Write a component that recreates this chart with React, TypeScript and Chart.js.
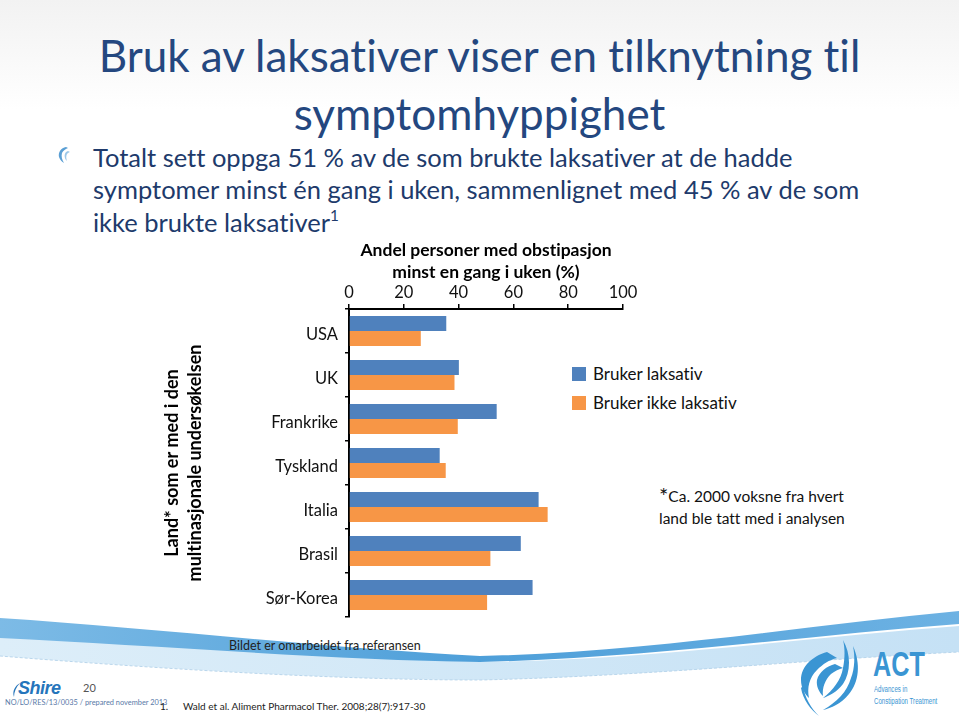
import React, { useEffect, useRef } from "react";
import { Chart, registerables } from "chart.js";

Chart.register(...registerables);

const countries = ["USA", "UK", "Frankrike", "Tyskland", "Italia", "Brasil", "Sør-Korea"];
const usesLaxative = [35.5, 40.1, 53.9, 33.1, 69.2, 62.7, 67.0];
const noLaxative = [26.2, 38.5, 39.7, 35.3, 72.5, 51.6, 50.4];
const seriesNames = ["Bruker laksativ", "Bruker ikke laksativ"];
const seriesColors = ["#4F81BD", "#F79646"];
const xMin = 0;
const xMax = 100;
const xStep = 20;
const xTitle = ["Andel personer med obstipasjon", "minst en gang i uken (%)"];
const yTitle = ["Land* som er med i den", "multinasjonale undersøkelsen"];

const FONT = "Lato, 'Open Sans', sans-serif";

function BarChart() {
  const ref = useRef<HTMLCanvasElement | null>(null);
  useEffect(() => {
    if (!ref.current) return;
    const chart = new Chart(ref.current, {
      type: "bar",
      data: {
        labels: countries,
        datasets: [
          {
            label: seriesNames[0],
            data: usesLaxative,
            backgroundColor: seriesColors[0],
            categoryPercentage: 0.68,
            barPercentage: 1.0,
          },
          {
            label: seriesNames[1],
            data: noLaxative,
            backgroundColor: seriesColors[1],
            categoryPercentage: 0.68,
            barPercentage: 1.0,
          },
        ],
      },
      options: {
        indexAxis: "y",
        animation: false,
        responsive: false,
        maintainAspectRatio: false,
        layout: { padding: { left: 0, top: 0, right: 27, bottom: 20 } },
        plugins: { legend: { display: false }, tooltip: { enabled: false } },
        scales: {
          x: {
            position: "top",
            min: xMin,
            max: xMax,
            ticks: {
              stepSize: xStep,
              color: "#111",
              padding: 1.5,
              font: { family: FONT, size: 16.5 },
            },
            grid: {
              drawOnChartArea: false,
              drawTicks: true,
              tickLength: 5,
              color: "#000",
              lineWidth: 1.5,
            },
            border: { display: true, color: "#000", width: 2 },
            title: {
              display: true,
              text: xTitle,
              color: "#000",
              padding: { top: 4, bottom: 0 },
              font: { family: FONT, size: 17.5, weight: "bold", lineHeight: 1.257 },
            },
            afterFit: (s: any) => {
              s.height = 74;
            },
          },
          y: {
            type: "category",
            ticks: {
              color: "#111",
              padding: 7,
              labelOffset: 4,
              font: { family: FONT, size: 16.5 },
            },
            grid: {
              drawOnChartArea: false,
              drawTicks: true,
              tickLength: 4,
              offset: true,
              color: "#000",
              lineWidth: 1.5,
            },
            border: { display: true, color: "#000", width: 2 },
            title: {
              display: true,
              text: yTitle,
              color: "#000",
              padding: { top: 10.5, bottom: 0 },
              font: { family: FONT, size: 18, weight: "bold", lineHeight: 1.28 },
            },
            afterFit: (s: any) => {
              s.width = 199;
            },
          },
        },
      },
    } as any);
    return () => chart.destroy();
  }, []);
  return (
    <canvas
      ref={ref}
      width={500}
      height={402}
      style={{ position: "absolute", left: 150, top: 235, width: 500, height: 402, zIndex: 2 }}
    />
  );
}

function Waves() {
  return (
    <svg
      width={959}
      height={120}
      viewBox="0 600 959 120"
      style={{ position: "absolute", left: 0, top: 600, zIndex: 1 }}
    >
      <defs>
        <linearGradient id="wg1" x1="0" y1="0" x2="1" y2="0">
          <stop offset="0" stopColor="#7DBBE6" />
          <stop offset="0.5" stopColor="#4E9FD9" />
          <stop offset="1" stopColor="#6DB2E3" />
        </linearGradient>
        <linearGradient id="wg2" x1="0" y1="0" x2="1" y2="0">
          <stop offset="0" stopColor="#DDEEF9" />
          <stop offset="1" stopColor="#C5E1F5" />
        </linearGradient>
      </defs>
      <path
        d="M0,636 C150,645 330,658 480,662 C650,660 800,638 959,626 L959,652 C800,660 650,676 480,680 C330,680 150,668 0,656 Z"
        fill="url(#wg2)"
      />
      <path
        d="M0,656 C150,668 330,680 480,680 C650,676 800,660 959,652"
        stroke="#B9D6EC"
        strokeWidth={1}
        strokeDasharray="3 2"
        fill="none"
      />
      <path
        d="M0,618 C150,628 330,648 480,656 C650,652 800,626 959,611 L959,624 C800,636 650,658 480,662 C330,660 150,645 0,638 Z"
        fill="url(#wg1)"
      />
    </svg>
  );
}

function ActLogo() {
  return (
    <div style={{ position: "absolute", left: 797, top: 638, width: 160, height: 79, zIndex: 3 }}>
      <svg width={66} height={79} viewBox="0 0 66 79" style={{ position: "absolute", left: 0, top: 0 }}>
        <path d="M30,14 C16,18 4,28 4,42 C4,50 8,56 12,60 C10,50 12,40 20,32 C26,26 32,22 40,20 Z" fill="#3A95D3" />
        <path d="M38,26 C30,28 22,34 20,42 C19,48 22,54 26,58 C25,50 28,42 34,36 C38,33 42,31 46,30 Z" fill="#3A95D3" />
        <path d="M46,2 C54,16 54,34 46,46 C40,54 32,58 26,60 C36,52 44,42 46,30 C48,20 48,10 46,2 Z" fill="#3A95D3" />
        <path d="M56,8 C64,26 62,44 52,56 C44,66 34,70 26,72 C40,64 50,54 54,40 C58,30 58,18 56,8 Z" fill="#3A95D3" />
        <path d="M4,50 C6,62 14,72 22,78 C14,70 8,60 6,48 Z" fill="#3A95D3" />
      </svg>
      <div
        style={{
          position: "absolute",
          left: 76,
          top: 8,
          fontFamily: "'Liberation Sans Narrow', 'Liberation Sans', sans-serif",
          fontWeight: 700,
          fontSize: 35,
          color: "#3A95D3",
          lineHeight: "35px",
          transform: "scaleX(0.72)",
          transformOrigin: "left top",
        }}
      >
        ACT
      </div>
      <div
        style={{
          position: "absolute",
          left: 77,
          top: 45,
          fontFamily: "'Liberation Sans', sans-serif",
          fontSize: 8.5,
          color: "#3A95D3",
          lineHeight: "12px",
          whiteSpace: "nowrap",
          transform: "scaleX(0.72)",
          transformOrigin: "left top",
        }}
      >
        Advances in
        <br />
        Constipation Treatment
      </div>
    </div>
  );
}

export default function App() {
  const navy = "#24477F";
  return (
    <div
      style={{
        position: "absolute",
        left: 0,
        top: 0,
        width: 959,
        height: 717,
        overflow: "hidden",
        background: "linear-gradient(180deg, #F2F2F2 0px, #FFFFFF 110px)",
        fontFamily: FONT,
        fontVariantLigatures: "none",
      }}
    >
      <div
        style={{
          position: "absolute",
          left: 0,
          top: 26,
          width: 959,
          textAlign: "center",
          fontSize: 44,
          lineHeight: "58px",
          color: navy,
          whiteSpace: "nowrap",
        }}
      >
        Bruk av laksativer viser en tilknytning til
        <br />
        symptomhyppighet
      </div>

      <svg width={14} height={18} viewBox="0 0 14 18" style={{ position: "absolute", left: 57, top: 146 }}>
        <path d="M9,1 C4,2 1,6 2,11 C3,14 5,16 7,17 C5,14 4,10 5,7 C6,5 8,3 11,2 Z" fill="#5A9FD4" />
        <path d="M11,5 C8,6 7,9 8,12 C8,13 9,14 10,15 C9,12 9,10 10,8 C11,7 12,6 13,6 Z" fill="#9CC7E8" />
      </svg>
      <div
        style={{
          position: "absolute",
          left: 93,
          top: 140.9,
          fontSize: 25.5,
          lineHeight: "32.5px",
          color: "#203A6B",
          whiteSpace: "nowrap",
        }}
      >
        Totalt sett oppga 51 % av de som brukte laksativer at de hadde
        <br />
        symptomer minst én gang i uken, sammenlignet med 45 % av de som
        <br />
        ikke brukte laksativer<sup style={{ fontSize: "60%", verticalAlign: "0.7em", lineHeight: 0 }}>1</sup>
      </div>

      <Waves />
      <BarChart />

      <div style={{ position: "absolute", left: 572, top: 367, width: 14, height: 14, background: seriesColors[0] }} />
      <div style={{ position: "absolute", left: 593, top: 364, fontSize: 17, lineHeight: "20px", color: "#111", whiteSpace: "nowrap" }}>
        {seriesNames[0]}
      </div>
      <div style={{ position: "absolute", left: 572, top: 396, width: 14, height: 14, background: seriesColors[1] }} />
      <div style={{ position: "absolute", left: 593, top: 393, fontSize: 17, lineHeight: "20px", color: "#111", whiteSpace: "nowrap" }}>
        {seriesNames[1]}
      </div>

      <div style={{ position: "absolute", left: 659, top: 485, fontSize: 15.5, lineHeight: "22px", color: "#111", whiteSpace: "nowrap" }}>
        <span style={{ fontSize: 22, lineHeight: 0, verticalAlign: "-0.1em" }}>*</span>Ca. 2000 voksne fra hvert
        <br />
        land ble tatt med i analysen
      </div>

      <div style={{ position: "absolute", left: 229, top: 638, fontSize: 12.5, lineHeight: "16px", color: "#222", whiteSpace: "nowrap", zIndex: 3 }}>
        Bildet er omarbeidet fra referansen
      </div>

      <svg width={10} height={16} viewBox="0 0 10 16" style={{ position: "absolute", left: 11, top: 682, zIndex: 3 }}>
        <path d="M9,1 C4,4 1,9 3,15 C3,10 5,5 9,1 Z" fill="#2575BB" />
      </svg>
      <div style={{ position: "absolute", left: 18, top: 679, fontFamily: "'Liberation Sans', sans-serif", fontStyle: "italic", fontWeight: 700, fontSize: 18, lineHeight: "18px", color: "#2575BB", letterSpacing: -0.5, zIndex: 3 }}>
        Shire
      </div>
      <div style={{ position: "absolute", left: 83, top: 681, fontSize: 11, lineHeight: "14px", color: "#555", zIndex: 3 }}>20</div>
      <div style={{ position: "absolute", left: 5, top: 698, fontSize: 7.4, lineHeight: "10px", color: "#5A7AA8", whiteSpace: "nowrap", zIndex: 3 }}>
        NO/LO/RES/13/0035 / prepared november 2013
      </div>
      <div style={{ position: "absolute", left: 160, top: 699, fontSize: 10, lineHeight: "14px", color: "#222", zIndex: 3 }}>1.</div>
      <div style={{ position: "absolute", left: 183, top: 699, fontSize: 10, lineHeight: "14px", color: "#222", whiteSpace: "nowrap", zIndex: 3 }}>
        Wald et al. Aliment Pharmacol Ther. 2008;28(7):917-30
      </div>

      <ActLogo />
    </div>
  );
}
